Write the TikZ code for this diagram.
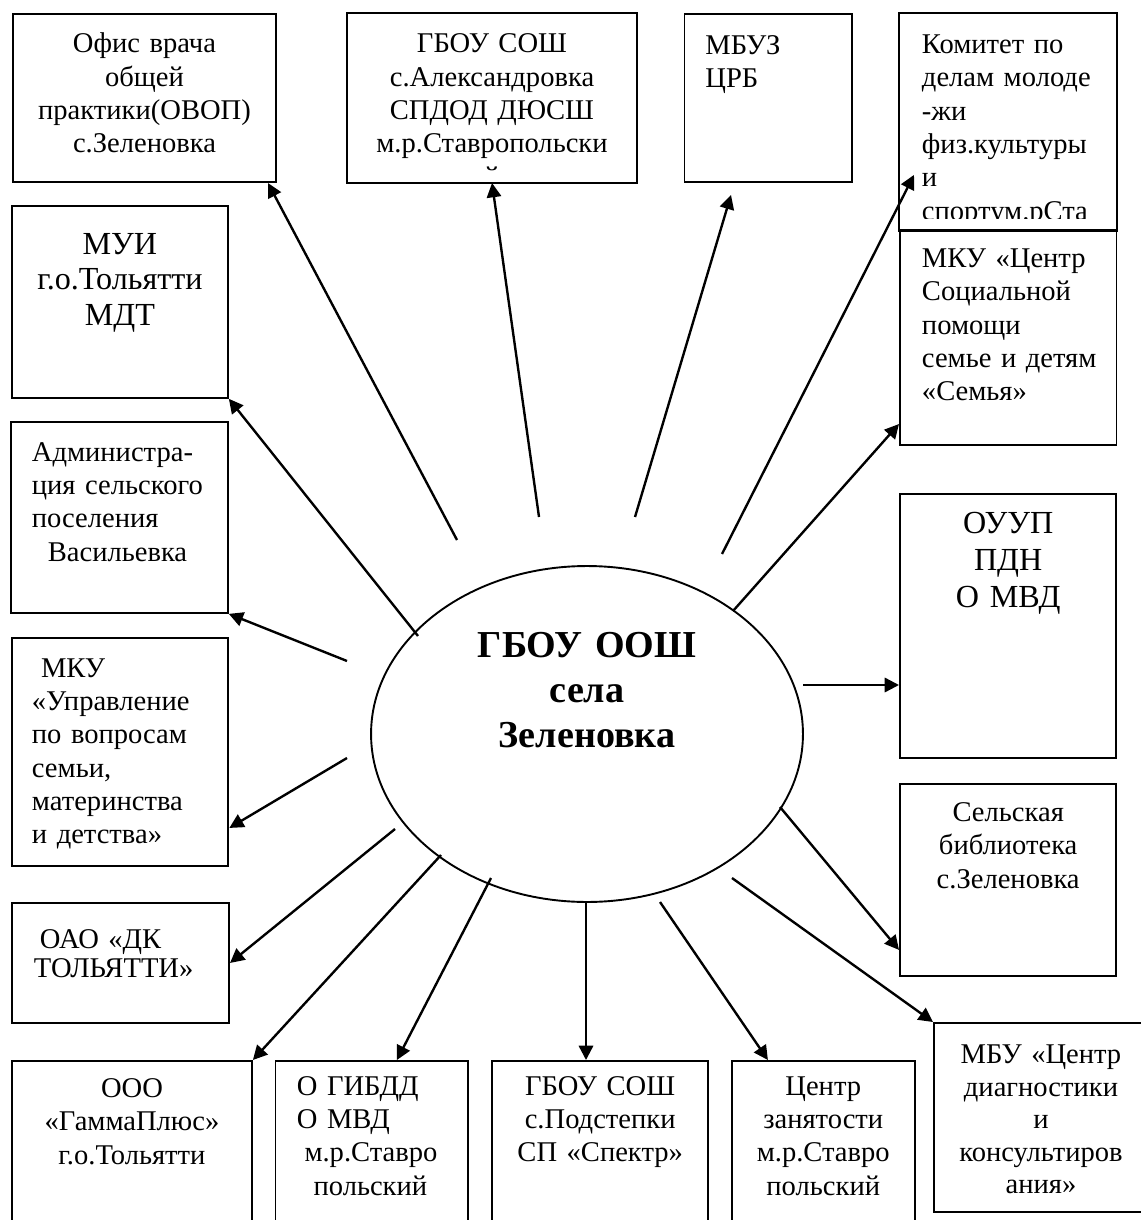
\documentclass[tikz,border=0pt]{standalone}
\usepackage{fontspec}
\setmainfont{Liberation Serif}
\usetikzlibrary{arrows, arrows.meta, shapes.geometric}

\begin{document}
\begin{tikzpicture}[x=0.42pt, y=-0.42pt, ->, >={Triangle[length=6pt, width=6pt]}, thick]
	\tikzstyle{org}=[draw, rectangle, anchor=north west, inner sep=0pt, align=center, font=\fontsize{12}{14}\selectfont]
	\tikzstyle{orgleft}=[org, align=left]
	\useasboundingbox (0,0) rectangle (1140,1220);

	% school in the middle
	\node[ellipse, draw, minimum width=181.4pt, minimum height=141.1pt, inner sep=0pt, text width=110pt, align=center, text height=10.6pt, text depth=75.2pt, font=\bfseries\fontsize{16}{18.9}\selectfont] (sch) at (587,734) {ГБОУ~ООШ\\села\\Зеленовка};

	% top row
	\node[org, text width=110.5pt, text height=16.4pt, text depth=54.2pt] (ofis) at (12,13) {Офис~врача\\общей\\практики(ОВОП)\\с.Зеленовка};
	\begin{scope}
		\clip (340,5) rectangle (645,171);
		\node[org, draw=none, text width=121pt, text height=16.4pt, text depth=54.2pt] (aleks) at (347,13) {ГБОУ~СОШ\\с.Александровка\\СПДОД~ДЮСШ\\м.р.Ставропольски\\й};
	\end{scope}
	\draw[-] (aleks.north west) rectangle (aleks.south east);
	\node[orgleft, inner xsep=8.8pt, text width=52.7pt, text height=16.9pt, text depth=53.7pt] (mbuz) at (683.5,13) {МБУЗ\\ЦРБ};
	\begin{scope}
		\clip (892,5) rectangle (1125,219);
		\node[orgleft, draw=none, inner xsep=9.24pt, text width=72.45pt, text height=16.6pt, text depth=74.1pt] (kom) at (899,13) {Комитет~по\\делам~молоде\\-жи\\физ.культуры\\и\\спортум.рСта};
	\end{scope}
	\draw[-] (kom.north west) rectangle (kom.south east);

	% right column
	\node[orgleft, inner xsep=9.24pt, text width=72.45pt, text height=15.8pt, text depth=74.5pt] (mkuc) at (899,229) {МКУ~«Центр\\Социальной\\помощи\\семье~и~детям\\«Семья»};
	\node[org, text width=90.9pt, text height=16.7pt, text depth=94.2pt, font=\fontsize{13.5}{15.5}\selectfont] (ouup) at (899,493) {ОУУП\\ПДН\\О~МВД};
	\node[org, text width=90.9pt, text height=15.8pt, text depth=64.8pt] (bibl) at (899,783) {Сельская\\библиотека\\с.Зеленовка};
	\node[org, text width=89.9pt, text height=17.2pt, text depth=62.2pt, font=\fontsize{12}{13.65}\selectfont] (mbu) at (933,1022) {МБУ~«Центр\\диагностики\\и\\консультиров\\ания»};

	% left column
	\node[org, text width=90.7pt, text height=20.2pt, text depth=60.4pt, font=\fontsize{13.5}{15}\selectfont] (mui) at (11,205) {МУИ\\г.о.Тольятти\\МДТ};
	\node[orgleft, inner xsep=8.8pt, text width=73.5pt, text height=16.4pt, text depth=63.8pt] (adm) at (10,421) {Администра-\\ция~сельского\\поселения\\\hspace*{6.7pt}Васильевка};
	\node[orgleft, inner xsep=8.4pt, text width=74.1pt, text height=16.4pt, text depth=79.4pt] (mkuu) at (11,637) {\hspace*{3.8pt}МКУ\\«Управление\\по~вопросам\\семьи,\\материнства\\и~детства»};
	\node[orgleft, inner xsep=9.24pt, text width=72.7pt, text height=19.3pt, text depth=31.1pt, font=\fontsize{12}{12.2}\selectfont] (oao) at (11,902) {\hspace*{2.5pt}ОАО~«ДК\\ТОЛЬЯТТИ»};

	% bottom row
	\node[org, text width=100.8pt, text height=15.4pt, text depth=68.6pt] (gamma) at (11,1060) {ООО\\«ГаммаПлюс»\\г.о.Тольятти};
	\node[orgleft, inner xsep=9pt, text width=62.8pt, text height=14.3pt, text depth=69.7pt] (gibdd) at (274.5,1060) {О~ГИБДД\\О~МВД\\\hspace*{3.2pt}м.р.Ставро\\\hspace*{7pt}польский};
	\node[org, text width=90.9pt, text height=14.3pt, text depth=69.7pt] (podst) at (491,1060) {ГБОУ~СОШ\\с.Подстепки\\СП~«Спектр»};
	\node[org, text width=76.7pt, text height=14.3pt, text depth=69.7pt] (zan) at (731,1060) {Центр\\занятости\\м.р.Ставро\\польский};

	% loose ends of the arrows
	\coordinate (s-ofis) at (457,540);
	\coordinate (s-aleks) at (539,517);
	\coordinate (s-mbuz) at (635,517);
	\coordinate (s-kom) at (722,554);
	\coordinate (s-mkuc) at (733,611);
	\coordinate (s-ouup) at (803,685);
	\coordinate (s-bibl) at (780,807);
	\coordinate (s-mbu) at (732,878);
	\coordinate (s-zan) at (660,902);
	\coordinate (s-podst) at (586,902);
	\coordinate (s-gibdd) at (491,878);
	\coordinate (s-gamma) at (441,855);
	\coordinate (s-oao) at (395,829);
	\coordinate (s-mkuu) at (347,758);
	\coordinate (s-adm) at (347,661);
	\coordinate (s-mui) at (418,636);

	\path[line width=1pt]
		(s-ofis) edge ([xshift=-3.8pt]ofis.south east)
		(s-aleks) edge (aleks.south)
		(s-mbuz) edge ([xshift=-15.6pt, yshift=-5pt]mbuz.south)
		(s-kom) edge ([xshift=6.3pt, yshift=23.5pt]kom.south west)
		(s-mkuc) edge ([yshift=9.2pt]mkuc.south west)
		(s-ouup) edge (s-ouup -| ouup.west)
		(s-bibl) edge ([yshift=11.3pt]bibl.south west)
		(s-mbu) edge (mbu.north west)
		(s-zan) edge ([xshift=15.5pt]zan.north west)
		(s-podst) edge (s-podst |- podst.north)
		(s-gibdd) edge ([xshift=10.6pt]gibdd.north)
		(s-gamma) edge (gamma.north east)
		(s-oao) edge (oao.east)
		(s-mkuu) edge ([yshift=16.4pt]mkuu.south east)
		(s-adm) edge (adm.south east)
		(s-mui) edge (mui.south east);
\end{tikzpicture}
\end{document}
